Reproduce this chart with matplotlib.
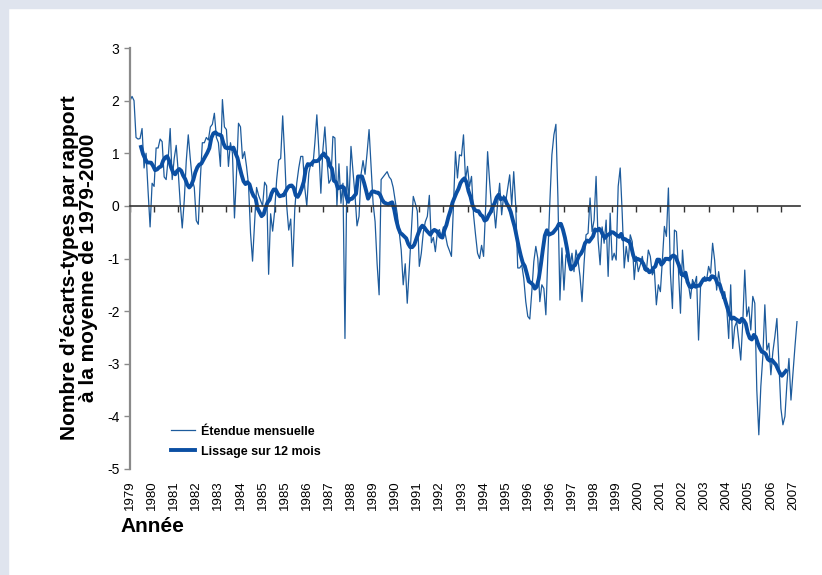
import matplotlib
matplotlib.use("Agg")
import matplotlib.pyplot as plt
from matplotlib.patches import Rectangle
import numpy as np
import pandas as pd

plt.rcParams['font.family'] = ['Liberation Sans', 'DejaVu Sans']
plt.rcParams['axes.unicode_minus'] = False

# monthly extent anomaly (std devs), from July 1979, one row = 12 months
etendue = [
    2.0, 2.08, 2.0, 1.3, 1.27, 1.28, 1.47, 0.72, 1.0, 0.28, -0.4, 0.43,
    0.37, 1.1, 1.1, 1.27, 1.22, 0.55, 0.5, 0.9, 1.47, 0.5, 0.9, 1.15,
    0.65, 0.05, -0.42, 0.1, 0.85, 1.35, 0.9, 0.5, 0.35, -0.28, -0.35, 0.5,
    1.2, 1.2, 1.3, 1.25, 1.5, 1.55, 1.76, 1.3, 1.2, 0.75, 2.02, 1.5,
    1.45, 0.75, 1.2, 1.0, -0.23, 0.6, 1.57, 1.5, 0.9, 1.03, 0.75, 0.4,
    -0.52, -1.05, -0.33, 0.35, 0.2, 0.1, 0.0, 0.45, 0.38, -1.3, -0.15, -0.48,
    -0.1, 0.5, 0.87, 0.9, 1.71, 0.95, 0.0, -0.46, -0.25, -1.15, -0.08, 0.43,
    0.72, 0.94, 0.94, 0.34, 0.0, 0.62, 0.81, 0.75, 1.19, 1.73, 1.06, 0.24,
    1.06, 1.5, 0.88, 0.43, 0.5, 1.32, 1.29, 0.0, 0.8, 0.05, 0.43, -2.52,
    0.75, 0.05, 1.13, 0.65, 0.2, -0.38, -0.2, 0.6, 0.86, 0.6, 1.0, 1.45,
    0.75, 0.05, -0.3, -1.1, -1.69, 0.5, 0.55, 0.6, 0.65, 0.55, 0.5, 0.35,
    0.1, -0.15, -0.5, -0.84, -1.5, -1.1, -1.85, -1.2, -0.5, 0.18, 0.05, -0.1,
    -1.15, -0.9, -0.5, -0.3, -0.2, 0.2, -0.7, -0.6, -0.87, -0.5, -0.45, -0.6,
    -0.4, -0.55, -0.75, -0.85, -0.96, 0.0, 1.03, 0.53, 0.97, 0.95, 1.35, 0.5,
    0.75, 0.37, 0.56, -0.17, -0.55, -0.9, -1.0, -0.75, -0.96, -0.05, 1.03, 0.46,
    -0.05, 0.0, -0.42, 0.05, 0.43, -0.17, 0.2, 0.08, 0.34, 0.59, 0.0, 0.65,
    0.0, -1.18, -1.18, -1.12, -1.38, -1.82, -2.1, -2.15, -1.63, -1.06, -0.77, -1.0,
    -1.82, -1.5, -1.57, -2.07, -0.93, 0.08, 0.97, 1.35, 1.55, 0.15, -1.79, -0.8,
    -1.6, -0.93, -1.0, -1.18, -0.9, -1.25, -0.84, -1.03, -1.34, -1.82, -1.1, -0.55,
    -0.52, 0.15, -0.49, -0.27, 0.56, -0.65, -1.12, -0.4, -0.71, -0.27, -1.34, -0.14,
    -1.03, -0.9, -1.03, 0.37, 0.72, -0.14, -1.18, -0.77, -1.06, -0.55, -0.68, -1.4,
    -0.96, -1.25, -1.12, -0.96, -1.22, -1.25, -0.84, -0.96, -1.31, -1.22, -1.88, -1.5,
    -1.63, -1.03, -0.39, -0.58, 0.34, -1.28, -1.95, -0.46, -0.49, -1.22, -2.04, -0.84,
    -1.37, -1.31, -1.5, -1.76, -1.4, -1.5, -1.34, -2.55, -1.53, -1.44, -1.34, -1.41,
    -1.15, -1.28, -0.71, -1.03, -1.6, -1.25, -1.53, -1.76, -1.63, -1.92, -2.52, -1.5,
    -2.71, -2.3, -2.2, -2.55, -2.93, -2.23, -1.22, -2.1, -1.92, -2.36, -1.72, -1.85,
    -3.5, -4.35, -3.43, -2.86, -1.88, -2.74, -2.61, -3.21, -2.77, -2.48, -2.14, -2.99,
    -3.85, -4.16, -4.0, -3.37, -2.9, -3.69, -3.18, -2.67, -2.2,
]

# category labels as printed by the original (one every 11 months)
year_labels = ['1979', '1980', '1981', '1982', '1983', '1984', '1985', '1985',
               '1986', '1987', '1988', '1989', '1990', '1991', '1992', '1993',
               '1994', '1995', '1996', '1996', '1997', '1998', '1999', '2000',
               '2001', '2002', '2003', '2004', '2005', '2006', '2007']
y_ticks = [-5, -4, -3, -2, -1, 0, 1, 2, 3]

serie = pd.Series(etendue)
months = np.arange(len(serie))
lissage = serie.rolling(12).mean()

col_thin = '#1d5b9c'
col_thick = '#0b4fa3'

fig = plt.figure(figsize=(8.22, 5.75), dpi=100)
fig.patch.set_facecolor('white')
# light frame of the source page
fig.add_artist(Rectangle((0, 1 - 8 / 575), 1, 8 / 575, transform=fig.transFigure,
                         color='#dfe4ee', zorder=0))
fig.add_artist(Rectangle((0, 0), 8 / 822, 1, transform=fig.transFigure,
                         color='#dfe4ee', zorder=0))

ax = fig.add_axes([130 / 822, 106 / 575, 670 / 822, 421 / 575])
ax.plot(months, serie, color=col_thin, lw=0.9, label='Étendue mensuelle')
ax.plot(months - 5.5, lissage, color=col_thick, lw=2.8, label='Lissage sur 12 mois')

ax.set_xlim(0, 333.5)
ax.set_ylim(-5, 3)
ax.set_yticks(y_ticks)
ax.set_yticklabels([str(v) for v in y_ticks], fontsize=10)

for s in ['top', 'right']:
    ax.spines[s].set_visible(False)
ax.spines['left'].set_color('#8a8a8a')
ax.spines['left'].set_linewidth(1.6)
ax.spines['bottom'].set_position(('data', 0))
ax.spines['bottom'].set_color('#333333')
ax.spines['bottom'].set_linewidth(1.2)
ax.set_xticks(np.arange(0, len(serie), 12))
ax.tick_params(axis='x', direction='out', length=4, width=1, color='#333333',
               labelbottom=False)
ax.tick_params(axis='y', direction='out', length=4, width=1, color='#8a8a8a')

sec = ax.secondary_xaxis('bottom')
sec.set_xticks(np.arange(0, 11 * len(year_labels), 11))
sec.set_xticklabels(year_labels, rotation=90, fontsize=9.5)
sec.tick_params(length=0, pad=8)
sec.spines['bottom'].set_visible(False)

fig.text(79 / 822, 1 - 268 / 575,
         "Nombre d\u2019écarts-types par rapport\nà la moyenne de 1979-2000",
         rotation=90, ha='center', va='center', multialignment='center',
         fontsize=15, fontweight='bold', linespacing=1.05)
fig.text(120 / 822, 1 - 526 / 575, 'Année', ha='left', va='center',
         fontsize=15, fontweight='bold')

leg = ax.legend(loc='lower left', bbox_to_anchor=(0.045, 0.0), frameon=False,
                prop={'weight': 'bold', 'size': 9}, handlelength=1.9,
                labelspacing=0.65, handletextpad=0.45)

fig.savefig('out.png', dpi=100)
plt.close()
